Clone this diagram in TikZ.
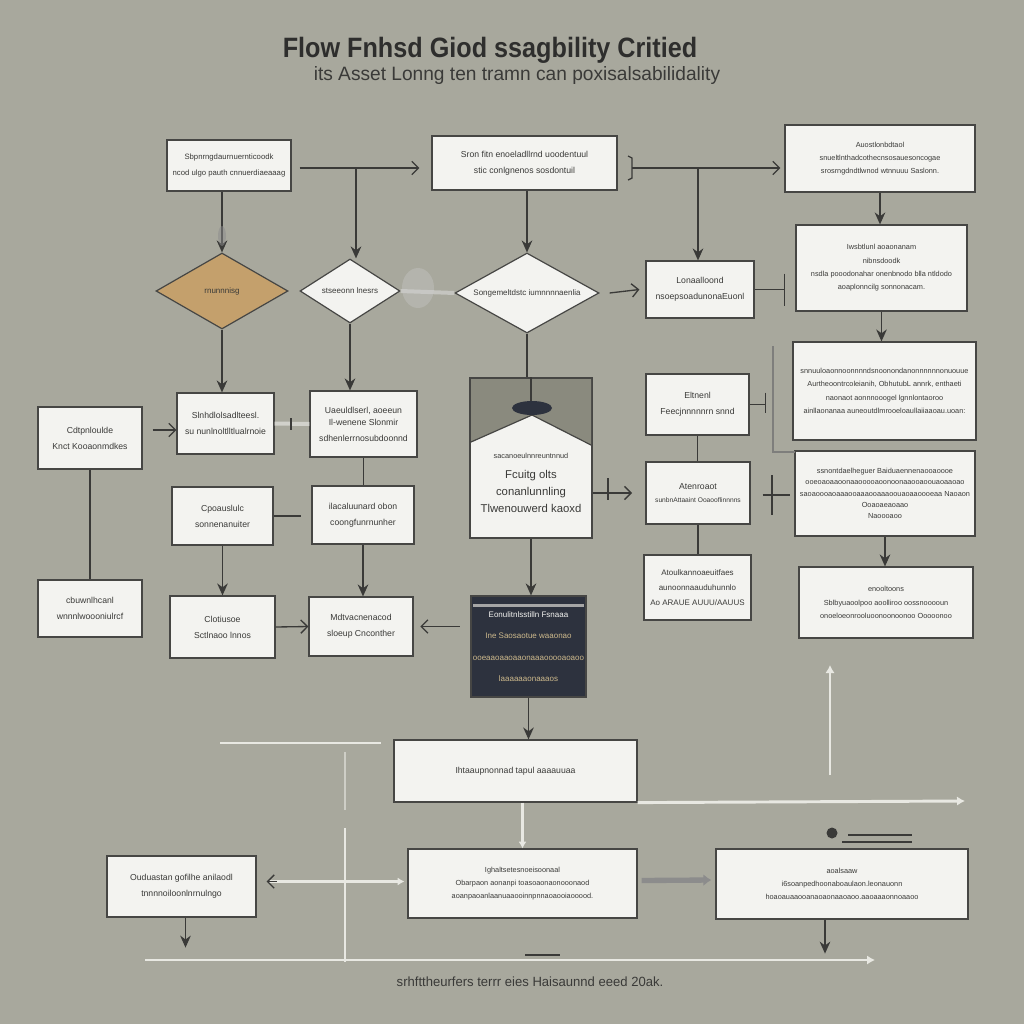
\documentclass[tikz,border=0pt]{standalone}
\usepackage{graphicx}
\usepackage{fontspec}
\setmainfont{Liberation Sans}
\usetikzlibrary{shapes.geometric,arrows.meta,calc}
\definecolor{bg}{RGB}{168,168,157}
\definecolor{boxfill}{RGB}{243,243,240}
\definecolor{edge}{RGB}{70,70,68}
\definecolor{ink}{RGB}{58,58,56}
\definecolor{palec}{RGB}{232,232,226}
\definecolor{tanc}{RGB}{196,160,108}
\definecolor{navyc}{RGB}{45,50,62}
\definecolor{roofc}{RGB}{138,138,126}
\definecolor{goldc}{RGB}{205,185,140}
\tikzset{
 box/.style={draw=edge, line width=0.9pt, fill=boxfill, align=center, inner sep=0pt, font=\fontsize{6.5}{12}\selectfont, text=ink},
 small/.style={font=\fontsize{5.5}{10}\selectfont},
 dia/.style={diamond, draw=edge, line width=0.9pt, fill=boxfill, inner sep=0pt},
 dialabel/.style={font=\fontsize{6}{7}\selectfont, text=ink},
 ln/.style={draw=ink, line width=1pt},
 tri/.style={ln, -{Stealth[length=9pt,width=8pt]}},
 barb/.style={ln, -{Straight Barb[length=5pt,width=10pt]}},
 pl/.style={draw=palec, line width=2.2pt},
 plarr/.style={pl, -{Latex[length=6pt,width=7pt]}},
}
\newcommand\bx[7][]{\node[box,#1,minimum width=\fpeval{(#5-#3)*0.75}pt,minimum height=\fpeval{(#6-#4)*0.75}pt] (#2) at ({(#3+#5)/2},{(#4+#6)/2}) {#7};}
\begin{document}
\begin{tikzpicture}[x=0.75pt,y=-0.75pt]
\fill[bg] (0,0) rectangle (1024,1024);
\useasboundingbox (0,0) rectangle (1024,1024);

% titles
\node[text=ink!80!black] (title) at (490,50) {\scalebox{0.9}[1]{\fontsize{21}{24}\selectfont\bfseries Flow Fnhsd Giod ssagbility Critied}};
\node[text=ink] (subtitle) at (517,76) {\scalebox{0.99}[1]{\fontsize{14.5}{16}\selectfont its Asset Lonng ten tramn can poxisalsabilidality}};
\node[text=ink] (foot) at (530,982) {\scalebox{0.98}[1]{\fontsize{10}{12}\selectfont srhfttheurfers terrr eies Haisaunnd eeed 20ak.}};

% row 1
\bx[font=\fontsize{5.8}{12}\selectfont]{A}{167}{140}{291}{191}{Sbpnrngdaurnuernticoodk\\ncod ulgo pauth cnnuerdiaeaaag}
\bx{B}{432}{136}{617}{190}{Sron fitn enoeladllrnd uoodentuul\\stic conlgnenos sosdontuil}
\bx[small]{C}{785}{125}{975}{192}{Auostlonbdtaol\\snueltlnthadcothecnsosauesoncogae\\srosrngdndtlwnod wtnnuuu Saslonn.}

% diamonds
\node[dia, fill=tanc, minimum width=99pt, minimum height=57pt, label={[dialabel]center:rnunnnisg}] (D1) at (222,291) {};
\node[dia, minimum width=75pt, minimum height=48pt, label={[dialabel]center:stseeonn lnesrs}] (D2) at (350,291) {};
\node[dia, minimum width=108pt, minimum height=60pt, label={[dialabel]center:Songemeltdstc iumnnnnaenlia}] (D3) at (527,293) {};

\bx{E}{646}{261}{754}{318}{Lonaalloond\\nsoepsoadunonaEuonl}
\bx[small]{F}{796}{225}{967}{311}{Iwsbtlunl aoaonanam\\nibnsdoodk\\nsdla pooodonahar onenbnodo blla ntldodo\\aoaplonncilg sonnonacam.}

% row 3
\bx{G}{38}{407}{142}{469}{Cdtpnloulde\\Knct Kooaonmdkes}
\bx{H}{177}{393}{274}{454}{Slnhdlolsadlteesl.\\su nunlnoltlltlualrnoie}
\bx{I}{310}{391}{417}{457}{Uaeuldlserl, aoeeun\\[-3pt]Il-wenene Slonmir\\sdhenlerrnosubdoonnd}
% J house box
\bx{J}{470}{378}{592}{538}{}
\fill[roofc] (471,379) -- (591,379) -- (591,445) -- (532,415) -- (471,442) -- cycle;
\draw[edge, line width=0.9pt] (J.north west) rectangle (J.south east);
\draw[edge, line width=0.9pt] (471,442) -- (532,415) -- (591,445);
\draw[ink, line width=1.2pt] (J.north) -- ++(0,25);
\fill[navyc] (532,408) ellipse (20 and 7);
\node[align=center, text=ink, font=\fontsize{8.5}{13}\selectfont] (Jt) at (531,483) {\fontsize{5.5}{8}\selectfont sacanoeulnnreuntnnud\\[2pt]\fontsize{8.5}{14}\selectfont Fcuitg olts\\conanlunnling\\Tlwenouwerd kaoxd};

\bx{K}{646}{374}{749}{435}{Eltnenl\\Feecjnnnnnrn snnd}
\bx[small]{L}{793}{342}{976}{440}{snnuuloaonnoonnnndsnoonondanonnnnnnonuouue\\Aurtheoontrcoleianih, ObhutubL annrk, enthaeti\\naonaot aonnnooogel lgnnlontaoroo\\ainllaonanaa auneoutdlmrooeloaullaiiaaoau.uoan:}
\bx{M}{646}{462}{750}{524}{Atenroaot\\[-2pt]{\fontsize{5}{8}\selectfont sunbnAttaaint Ooaooflinnnns}}
\bx[font=\fontsize{5.5}{8.5}\selectfont]{N}{795}{451}{975}{536}{ssnontdaelheguer Baiduaennenaooaoooe\\ooeoaoaaoonaaooooaoonoonaaooaoouaoaaoao\\saoaoooaoaaaooaaaooaaaoouaoaaoooeaa Naoaon\\Ooaoaeaoaao\\Naoooaoo}
\bx[small]{O}{799}{567}{973}{638}{enooltoons\\Sblbyuaoolpoo aoolliroo oossnooooun\\onoeloeonrooluoonoonoonoo Ooooonoo}
\bx[font=\fontsize{6}{11.5}\selectfont]{P}{644}{555}{751}{620}{Atoulkannoaeuitfaes\\aunoonnaauduhunnlo\\Ao ARAUE AUUU/AAUUS}

% row 4
\bx{Q}{172}{487}{273}{545}{Cpoauslulc\\sonnenanuiter}
\bx{R}{312}{486}{414}{544}{ilacaluunard obon\\coongfunrnunher}
\bx{S}{38}{580}{142}{637}{cbuwnlhcanl\\wnnnlwoooniulrcf}
\bx{T}{170}{596}{275}{658}{Clotiusoe\\Sctlnaoo lnnos}
\bx{U}{309}{597}{413}{656}{Mdtvacnenacod\\sloeup Cnconther}
\bx[fill=navyc, draw=edge, text=goldc, font=\fontsize{6}{16}\selectfont]{V}{471}{596}{586}{697}{{\color{boxfill}Eonulitnlsstilln Fsnaaa}\\Ine Saosaotue waaonao\\ooeaaoaaoaaonaaaooooaoaoo\\laaaaaaonaaaos}
\fill[black!35] (473,604) rectangle (584,607);

% bottom
\bx{W}{394}{740}{637}{802}{Ihtaaupnonnad tapul aaaauuaa}
\bx[small]{X}{408}{849}{637}{918}{Ighaltsetesnoeisoonaal\\Obarpaon aonanpi toasoaonaonooonaod\\aoanpaoanlaanuaaooinnpnnaoaooiaooood.}
\bx{Y}{107}{856}{256}{917}{Ouduastan gofilhe anilaodl\\tnnnnoiloonlnrnulngo}
\bx[small]{Z}{716}{849}{968}{919}{aoalsaaw\\i6soanpedhoonaboaulaon.leonauonn\\hoaoauaaooanaoaonaaoaoo.aaoaaaonnoaaoo}

% ---- connectors ----
\draw[barb] ($(A.east)+(8,2.5)$) -- ($(B.west)+(-12,5)$);
\coordinate (j1) at (356,168);
\draw[tri] (j1) -- (j1 |- D2.north);
\draw[tri] (D1.north |- A.south) -- (D1.north);
\fill[black!45, opacity=0.5] (222,236) ellipse (4 and 10);
\draw[tri] (D3.north |- B.south) -- (D3.north);
\coordinate (cL) at (632,168);
\draw[barb] (cL) -- ($(C.west)+(-4,9.5)$);
\draw[ln] (628,156) -- (632,158) -- (632,178) -- (628,180);
\coordinate (j2) at (698,168);
\draw[tri] (j2) -- (j2 |- E.north);
\draw[tri] (C.south) -- (C.south |- F.north);
\draw[pl, line width=3pt, draw=palec!85!black] (D2.east) -- (D3.west);
\fill[black!20, opacity=0.35] (418,288) ellipse (16 and 20);
\draw[barb] ($(D3.east)+(10,0)$) -- ($(E.west)+(-6,0)$);
\draw[ln] (E.east) -- ++(30,0) coordinate (eF);
\draw[ln] ($(eF)+(0,-16)$) -- ($(eF)+(0,16)$);
\draw[tri] (F.south) -- (F.south |- L.north);
\draw[tri] (D1.south) -- (D1.south |- H.north);
\draw[tri] (D2.south) -- (D2.south |- I.north);
\draw[barb] ($(G.east)+(10,-8)$) -- ($(H.west)+(0,6.5)$);
\draw[pl, draw=palec!90!black, line width=3pt] (H.east) -- (I.west);
\draw[ln] (291,418) -- (291,430);
\draw[ln] (I.south) -- (I.south |- R.north);
\draw[ln] (Q.east) -- ++(27,0);
\draw[ln] (G.south) -- (S.north);
\draw[tri] (Q.south) -- (Q.south |- T.north);
\draw[tri] (R.south) -- (R.south |- U.north);
\draw[barb] (T.east) -- (U.west);
\draw[ln, line width=1.4pt] (D3.south) -- (D3.south |- J.north);
\draw[barb, shorten >=10pt] (J.east |- M.west) -- (M.west);
\draw[ln] (608,478) -- (608,500);
\draw[tri] (J.south) -- (J.south |- V.north);
\draw[barb, shorten <=8pt, shorten >=5pt] (V.west |- U.east) -- (U.east);
\draw[tri] (V.south) -- (V.south |- W.north);
\draw[ln] (K.east) -- ++(16,0) coordinate (kL);
\draw[ln] ($(kL)+(0,-12)$) -- ($(kL)+(0,8)$);
\draw[ln, draw=edge!70] (773,346) -- (773,452) -- (795,452);
\draw[ln] (K.south) -- (K.south |- M.north);
\draw[ln] ($(M.east)+(12,2)$) -- ($(N.west)+(-4,1.5)$);
\draw[ln] (772,475) -- (772,515);
\draw[ln] (M.south) -- (M.south |- P.north);
\draw[tri] (N.south) -- (N.south |- O.north);

% bottom pale connectors
\draw[pl] (220,743) -- (381,743);
\draw[pl, draw=palec!60!bg] (345,752) -- (345,810);
\draw[pl] (345,828) -- (345,962);
\draw[plarr] (W.south east) -- (965,801);
\draw[plarr] (830,775) -- (830,665);
\draw[pl, -{Latex[length=5pt,width=6pt]}] (X.north |- W.south) -- (X.north);
\fill[ink] (832,833) circle (5.5);
\draw[ln, line width=0.8pt] (848,835) -- (912,835);
\draw[ln, line width=0.8pt] (842,842) -- (912,842);
\draw[pl, -{Latex[length=5pt,width=6pt]}] ($(Y.east)+(12,-5)$) -- ($(X.west)+(-3,-2)$);
\draw[ln, -{Straight Barb[length=5pt,width=10pt]}] ($(Y.east)+(20,-5)$) -- ($(Y.east)+(10,-5)$);
\draw[draw=black!45, line width=4pt, -{Latex[length=6pt,width=9pt]}] ($(X.east)+(4,-3)$) -- ($(Z.west)+(-4,-4)$);
\draw[tri] ($(Y.south)+(4,0)$) -- ++(0,30);
\draw[tri] ($(Z.south)+(-17,0)$) -- ++(0,34);
\draw[plarr] (145,960) -- (875,960);
\draw[ln, line width=0.8pt] (525,955) -- (560,955);
\end{tikzpicture}
\end{document}
